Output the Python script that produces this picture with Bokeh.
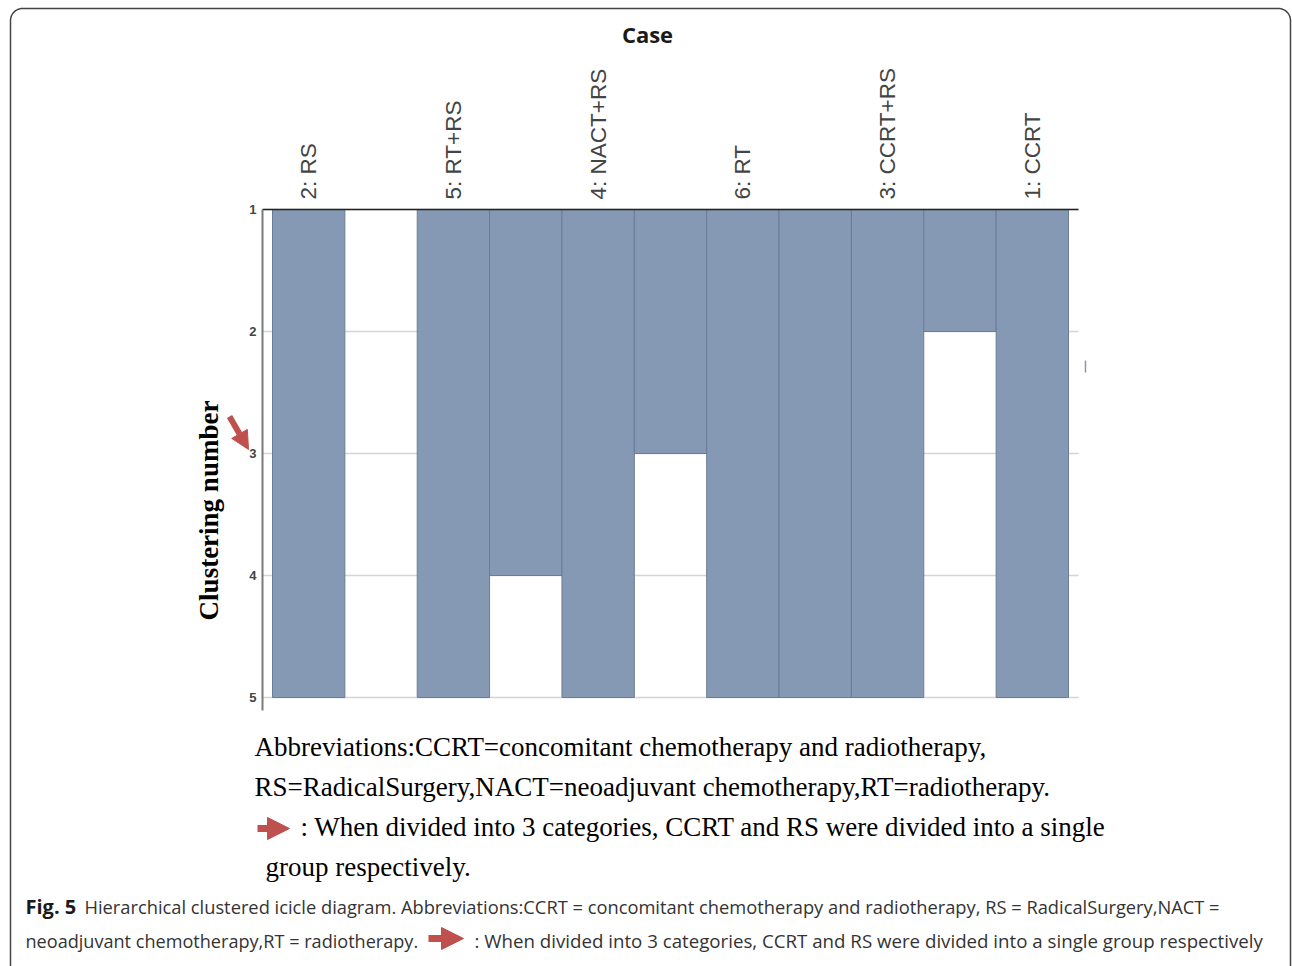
import numpy as np
from bokeh.plotting import figure
from bokeh.models import (Range1d, LinearAxis, FixedTicker, Label, Arrow,
                          NormalHead, ColumnDataSource)
from bokeh.embed import file_html
from bokeh.resources import INLINE

# ---------------- data ----------------
cases = ["2: RS", "5: RT+RS", "4: NACT+RS", "6: RT", "3: CCRT+RS", "1: CCRT"]
levels = [1, 2, 3, 4, 5]
case_depth = [5, 5, 5, 5, 5, 5]          # every case column filled down to level 5
join_depth = [1, 4, 3, 5, 2]             # depth to which neighbouring cases stay joined
title_text = "Case"
ylabel_text = "Clustering number"
abbr_lines = [
    "Abbreviations:CCRT=concomitant chemotherapy and radiotherapy,",
    "RS=RadicalSurgery,NACT=neoadjuvant chemotherapy,RT=radiotherapy.",
    ": When divided into 3 categories, CCRT and RS were divided into a single",
    "group respectively.",
]
cap_bold = "Fig. 5"
cap_line1 = ("Hierarchical clustered icicle diagram. Abbreviations:CCRT = concomitant "
             "chemotherapy and radiotherapy, RS = RadicalSurgery,NACT =")
cap_line2a = "neoadjuvant chemotherapy,RT = radiotherapy."
cap_line2b = (": When divided into 3 categories, CCRT and RS were divided into a single "
              "group respectively")

# ---------------- geometry (canvas pixels -> data) ----------------
W, H = 1292, 966
SX = 796 / 11.0          # px per column
SY = 122.0               # px per level
X0 = 272.0               # canvas x of column 0
Y1 = 209.0               # canvas y of level 1


def X(px):
    return (px - X0) / SX


def Y(py):
    return 1 + (py - Y1) / SY


p = figure(width=W, height=H, output_backend="svg", toolbar_location=None,
           x_range=Range1d(X(0), X(W)), y_range=Range1d(Y(H), Y(0)),
           x_axis_location=None, y_axis_location=None,
           min_border=0, min_border_left=0, min_border_right=0,
           min_border_top=0, min_border_bottom=0)
p.outline_line_color = None
p.grid.visible = False
p.background_fill_color = "white"
p.border_fill_color = "white"

# ---------------- icicle columns ----------------
depths = []
for i in range(len(cases)):
    depths.append(case_depth[i])
    if i < len(join_depth):
        depths.append(join_depth[i])
lefts = [float(i) for i in range(len(depths))]
rights = [float(i + 1) for i in range(len(depths))]
mask = [d > levels[0] for d in depths]
src = ColumnDataSource(dict(
    left=[l for l, m in zip(lefts, mask) if m],
    right=[r for r, m in zip(rights, mask) if m],
    top=[levels[0]] * sum(mask),
    bottom=[d for d, m in zip(depths, mask) if m],
))

# grid lines (under bars)
p.segment(x0=[X(262)] * len(levels), x1=[X(1078)] * len(levels),
          y0=levels, y1=levels, line_color="#d4d4d4", line_width=1.5)

p.quad(left="left", right="right", top="top", bottom="bottom", source=src,
       fill_color="#8599b5", line_color="#6c7c95", line_width=1)

# ---------------- axes ----------------
yaxis = LinearAxis(fixed_location=X(262), bounds=(levels[0], Y(710)),
                   ticker=FixedTicker(ticks=levels))
yaxis.axis_line_color = "#7a7a7a"
yaxis.axis_line_width = 2
yaxis.major_tick_out = 0
yaxis.major_tick_in = 0
yaxis.minor_tick_out = 0
yaxis.minor_tick_in = 0
yaxis.major_label_standoff = 6
yaxis.major_label_text_font = "Liberation Sans"
yaxis.major_label_text_font_size = "13px"
yaxis.major_label_text_font_style = "bold"
yaxis.major_label_text_color = "#444444"
p.add_layout(yaxis, "left")

centers = [2 * i + 0.5 for i in range(len(cases))]
xaxis = LinearAxis(fixed_location=levels[0], bounds=(X(262), X(1078)),
                   ticker=FixedTicker(ticks=centers),
                   major_label_overrides={c: n for c, n in zip(centers, cases)})
xaxis.axis_line_color = "#222222"
xaxis.axis_line_width = 1.5
xaxis.major_tick_out = 0
xaxis.major_tick_in = 0
xaxis.minor_tick_out = 0
xaxis.minor_tick_in = 0
xaxis.major_label_orientation = "vertical"
xaxis.major_label_standoff = 10
xaxis.major_label_text_font = "Liberation Sans"
xaxis.major_label_text_font_size = "22.5px"
xaxis.major_label_text_color = "#444444"
p.add_layout(xaxis, "above")

# ---------------- texts ----------------
p.add_layout(Label(x=X(647), y=Y(33), text=title_text, text_align="center",
                   text_baseline="middle", text_font="Open Sans",
                   text_font_style="bold", text_font_size="22px",
                   text_color="#1a1a1a"))
p.add_layout(Label(x=X(208), y=Y(510), text=ylabel_text, angle=np.pi / 2,
                   text_align="center", text_baseline="middle",
                   text_font="Liberation Serif", text_font_style="bold",
                   text_font_size="27px", text_color="#000000"))

abbr_pos = [(254, 746), (254, 786), (300, 826), (265, 866)]
for t, (ax, ay) in zip(abbr_lines, abbr_pos):
    p.add_layout(Label(x=X(ax), y=Y(ay), text=t, text_align="left",
                       text_baseline="middle", text_font="Liberation Serif",
                       text_font_size="27px", text_color="#000000"))

p.add_layout(Label(x=X(25), y=Y(906), text=cap_bold, text_align="left",
                   text_baseline="middle", text_font="Open Sans",
                   text_font_style="bold", text_font_size="20px",
                   text_color="#1a1a1a"))
p.add_layout(Label(x=X(84), y=Y(906), text=cap_line1, text_align="left",
                   text_baseline="middle", text_font="Open Sans",
                   text_font_size="18.3px", text_color="#333333"))
p.add_layout(Label(x=X(25), y=Y(940), text=cap_line2a, text_align="left",
                   text_baseline="middle", text_font="Open Sans",
                   text_font_size="18.1px", text_color="#333333"))
p.add_layout(Label(x=X(474), y=Y(940), text=cap_line2b, text_align="left",
                   text_baseline="middle", text_font="Open Sans",
                   text_font_size="18.7px", text_color="#333333"))

# ---------------- red arrows ----------------
RED = "#c0504d"
for (xs, ys, xe, ye, w, s) in [(229, 416, 248, 449, 6, 18),
                               (257, 828, 289, 828, 7, 22),
                               (428, 938, 463, 938, 7, 22)]:
    p.add_layout(Arrow(x_start=X(xs), y_start=Y(ys), x_end=X(xe), y_end=Y(ye),
                       line_color=RED, line_width=w,
                       end=NormalHead(size=s, fill_color=RED, line_color=RED)))

# small stray mark right of the chart
p.segment(x0=[X(1085)], x1=[X(1085)], y0=[Y(360)], y1=[Y(372)],
          line_color="#8a96aa", line_width=1.5)

# ---------------- rounded border ----------------
r = 12.0
bl, br, bt, bb = 10.0, 1290.0, 8.0, 1010.0
th1 = np.linspace(np.pi, 1.5 * np.pi, 12)
th2 = np.linspace(1.5 * np.pi, 2 * np.pi, 12)
bx = np.concatenate([[bl], bl + r + r * np.cos(th1), br - r + r * np.cos(th2), [br]])
by = np.concatenate([[bb], bt + r + r * np.sin(th1), bt + r + r * np.sin(th2), [bb]])
p.line(x=[X(v) for v in bx], y=[Y(v) for v in by], line_color="#444444", line_width=1.5)

open("out.html", "w").write(file_html(p, INLINE))
